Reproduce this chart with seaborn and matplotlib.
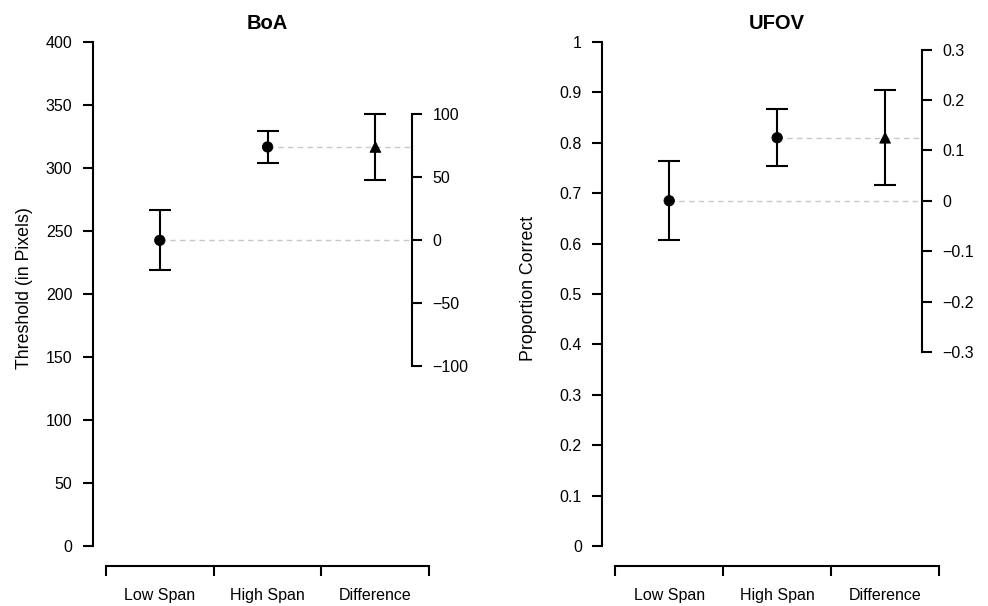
import numpy as np
import pandas as pd
import matplotlib
matplotlib.use("Agg")
import matplotlib.pyplot as plt
import matplotlib.ticker as mticker
import seaborn as sns

# categories on the x axis
conditions = ["Low Span", "High Span", "Difference"]

# BoA: group means with 95% CI, plus the difference (High - Low)
boa_mean = [242.6, 316.7]
boa_lo = [218.8, 304.2]
boa_hi = [266.9, 329.4]
boa_diff_mean = 74.1
boa_diff_lo = 47.7
boa_diff_hi = 100.3
boa_yticks = [0, 50, 100, 150, 200, 250, 300, 350, 400]
boa_diff_ticks = [-100, -50, 0, 50, 100]

# UFOV
ufov_mean = [0.685, 0.810]
ufov_lo = [0.608, 0.753]
ufov_hi = [0.763, 0.868]
ufov_diff_mean = 0.125
ufov_diff_lo = 0.031
ufov_diff_hi = 0.220
ufov_yticks = [0, 0.1, 0.2, 0.3, 0.4, 0.5, 0.6, 0.7, 0.8, 0.9, 1]
ufov_diff_ticks = [-0.3, -0.2, -0.1, 0, 0.1, 0.2, 0.3]

sns.set_style("ticks", {"axes.edgecolor": "black", "xtick.color": "black",
                        "ytick.color": "black", "text.color": "black",
                        "axes.labelcolor": "black"})
plt.rcParams["font.family"] = ["Liberation Sans", "DejaVu Sans"]

TICK_FS = 11.5
LABEL_FS = 12.8
TITLE_FS = 14.5
LW = 1.5
DIFF_X = 3.34


def r_fmt(v, pos=None):
    s = "%g" % v
    return s.replace("-", "\u2212")


def panel(ax, title, ylabel, means, lo, hi, dmean, dlo, dhi, yticks, dticks, label_x):
    base = means[0]
    df = pd.DataFrame({
        "x": [1, 2, 3],
        "y": [means[0], means[1], base + dmean],
        "kind": ["group", "group", "diff"],
    })
    err = np.array([
        [means[0] - lo[0], means[1] - lo[1], dmean - dlo],
        [hi[0] - means[0], hi[1] - means[1], dhi - dmean],
    ])

    # dashed reference lines to the difference axis
    ax.hlines([means[0], means[1]], [1, 2], DIFF_X, colors="#c8c8c8",
              linestyles=(0, (4, 3)), linewidth=1.0, zorder=1)

    ax.errorbar(df["x"], df["y"], yerr=err, fmt="none", ecolor="black",
                elinewidth=LW, capsize=7.8, capthick=LW, zorder=2)
    sns.scatterplot(data=df, x="x", y="y", style="kind", size="kind",
                    markers={"group": "o", "diff": "^"},
                    sizes={"group": 56, "diff": 60}, color="black",
                    edgecolor="black", linewidth=0.6, legend=False,
                    ax=ax, zorder=3)

    # R-like axis ranges (4% extension)
    ax.set_xlim(0.38, 3.62)
    r = yticks[-1] - yticks[0]
    ax.set_ylim(yticks[0] - 0.04 * r, yticks[-1] + 0.04 * r)

    sns.despine(ax=ax)
    ax.spines["left"].set_bounds(yticks[0], yticks[-1])
    ax.spines["bottom"].set_bounds(0.5, 3.5)
    for sp in ("left", "bottom"):
        ax.spines[sp].set_linewidth(LW)

    ax.set_yticks(yticks)
    ax.yaxis.set_major_formatter(mticker.FuncFormatter(r_fmt))
    ax.tick_params(axis="y", length=7.2, width=LW, pad=7.5, labelsize=TICK_FS)

    ax.xaxis.set_major_locator(mticker.FixedLocator([0.5, 1.5, 2.5, 3.5]))
    ax.xaxis.set_major_formatter(mticker.NullFormatter())
    ax.xaxis.set_minor_locator(mticker.FixedLocator([1, 2, 3]))
    ax.xaxis.set_minor_formatter(mticker.FixedFormatter(conditions))
    ax.tick_params(axis="x", which="major", length=7.2, width=LW)
    ax.tick_params(axis="x", which="minor", length=0, pad=16, labelsize=TICK_FS)

    ax.set_xlabel("")
    ax.set_ylabel(ylabel, fontsize=LABEL_FS)
    ax.yaxis.set_label_coords(label_x, 0.511)
    ax.set_title(title, fontsize=TITLE_FS, fontweight="bold", y=0.986, pad=0)

    # difference axis on the right
    loc = (DIFF_X - 0.38) / 3.24
    sec = ax.secondary_yaxis(loc, functions=(lambda y: y - base, lambda d: d + base))
    sec.set_yticks(dticks)
    sec.yaxis.set_major_formatter(mticker.FuncFormatter(r_fmt))
    sec.spines["right"].set_bounds(dticks[0], dticks[-1])
    sec.spines["right"].set_linewidth(LW)
    sec.tick_params(axis="y", length=7.2, width=LW, pad=7.5, labelsize=TICK_FS)


fig = plt.figure(figsize=(9.88, 6.06), dpi=100)
ax1 = fig.add_axes([0.0941, 0.0657, 0.3535, 0.8983])
ax2 = fig.add_axes([0.6096, 0.0657, 0.3540, 0.8983])

panel(ax1, "BoA", "Threshold (in Pixels)", boa_mean, boa_lo, boa_hi,
      boa_diff_mean, boa_diff_lo, boa_diff_hi, boa_yticks, boa_diff_ticks, -0.172)
panel(ax2, "UFOV", "Proportion Correct", ufov_mean, ufov_lo, ufov_hi,
      ufov_diff_mean, ufov_diff_lo, ufov_diff_hi, ufov_yticks, ufov_diff_ticks, -0.187)

fig.savefig("out.png", dpi=100)
